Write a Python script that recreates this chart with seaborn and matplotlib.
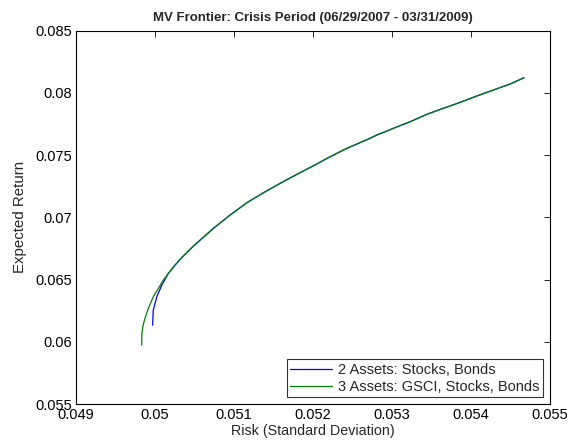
import numpy as np
import pandas as pd
import seaborn as sns
import matplotlib
matplotlib.use("Agg")
import matplotlib.pyplot as plt

# Data (efficient frontiers)
risk_3 = [0.049832, 0.049834, 0.049850, 0.049873, 0.049915, 0.049978, 0.050105,
          0.050232, 0.050338, 0.050485, 0.050738, 0.050949, 0.051161, 0.051371,
          0.051582, 0.051794, 0.052004, 0.052215, 0.052427, 0.0527, 0.052806,
          0.053016, 0.053228, 0.053439, 0.053649, 0.053861, 0.054072, 0.054282,
          0.054494, 0.054671]
ret_3 = [0.059718, 0.06066, 0.06135, 0.061889, 0.06267, 0.063601, 0.064944,
         0.066013, 0.06676, 0.06768, 0.0691, 0.070169, 0.071158, 0.071961,
         0.072717, 0.07344, 0.074132, 0.074855, 0.07553, 0.076278, 0.0766,
         0.077138, 0.077669, 0.078264, 0.078746, 0.079228, 0.079735, 0.080217,
         0.080699, 0.081206]
risk_2 = [0.04997, 0.049978, 0.050022, 0.050085, 0.050168, 0.050260, 0.050338,
          0.050485, 0.050738, 0.050949, 0.051161, 0.051371, 0.051582, 0.051794,
          0.052004, 0.052215, 0.052427, 0.0527, 0.052806, 0.053016, 0.053228,
          0.053439, 0.053649, 0.053861, 0.054072, 0.054282, 0.054494, 0.054671]
ret_2 = [0.06133, 0.06253, 0.0636, 0.06454, 0.06548, 0.06620, 0.06676,
         0.06768, 0.0691, 0.070169, 0.071158, 0.071961, 0.072717, 0.07344,
         0.074132, 0.074855, 0.07553, 0.076278, 0.0766, 0.077138, 0.077669,
         0.078264, 0.078746, 0.079228, 0.079735, 0.080217, 0.080699, 0.081206]
labels = ["2 Assets: Stocks, Bonds", "3 Assets: GSCI, Stocks, Bonds"]
x_ticks = [0.049, 0.05, 0.051, 0.052, 0.053, 0.054, 0.055]
x_ticklabels = ["0.049", "0.05", "0.051", "0.052", "0.053", "0.054", "0.055"]
y_ticks = [0.055, 0.06, 0.065, 0.07, 0.075, 0.08, 0.085]
y_ticklabels = ["0.055", "0.06", "0.065", "0.07", "0.075", "0.08", "0.085"]

df = pd.concat([
    pd.DataFrame({"risk": risk_2, "ret": ret_2, "series": labels[0]}),
    pd.DataFrame({"risk": risk_3, "ret": ret_3, "series": labels[1]}),
], ignore_index=True)

sns.set_style("white")
plt.rcParams["font.family"] = ["Liberation Sans", "DejaVu Sans"]

fig = plt.figure(figsize=(5.69, 4.48), dpi=100)
ax = fig.add_axes([76 / 569, 1 - 404 / 448, (550 - 76) / 569, (404 - 30.5) / 448])

sns.lineplot(data=df, x="risk", y="ret", hue="series", sort=False, estimator=None,
             palette={labels[0]: "#0000ff", labels[1]: "#008000"}, linewidth=0.9,
             ax=ax)

ax.set_xlim(0.049, 0.055)
ax.set_ylim(0.055, 0.085)
ax.set_xticks(x_ticks)
ax.set_xticklabels(x_ticklabels)
ax.set_yticks(y_ticks)
ax.set_yticklabels(y_ticklabels)
ax.tick_params(direction="in", length=4, width=0.6, top=True, right=True,
               labelsize=10.5, colors="black", pad=3)
for s in ax.spines.values():
    s.set_visible(True)
    s.set_color("black")
    s.set_linewidth(0.8)

ax.set_xlabel("Risk (Standard Deviation)", fontsize=10.3, labelpad=1)
ax.set_ylabel("Expected Return", fontsize=10.8, labelpad=6)
ax.set_title("MV Frontier: Crisis Period (06/29/2007 - 03/31/2009)", fontsize=9.5,
             fontweight="bold", pad=7)

leg = ax.legend(loc="lower right", fontsize=10.5, frameon=True, fancybox=False,
                edgecolor="black", borderaxespad=0.45, handlelength=2.9,
                labelspacing=0.2, borderpad=0.25, handletextpad=0.4, title=None)
leg.get_frame().set_linewidth(0.8)
for h in leg.get_lines():
    h.set_linewidth(0.9)

fig.savefig("out.png", dpi=100)
